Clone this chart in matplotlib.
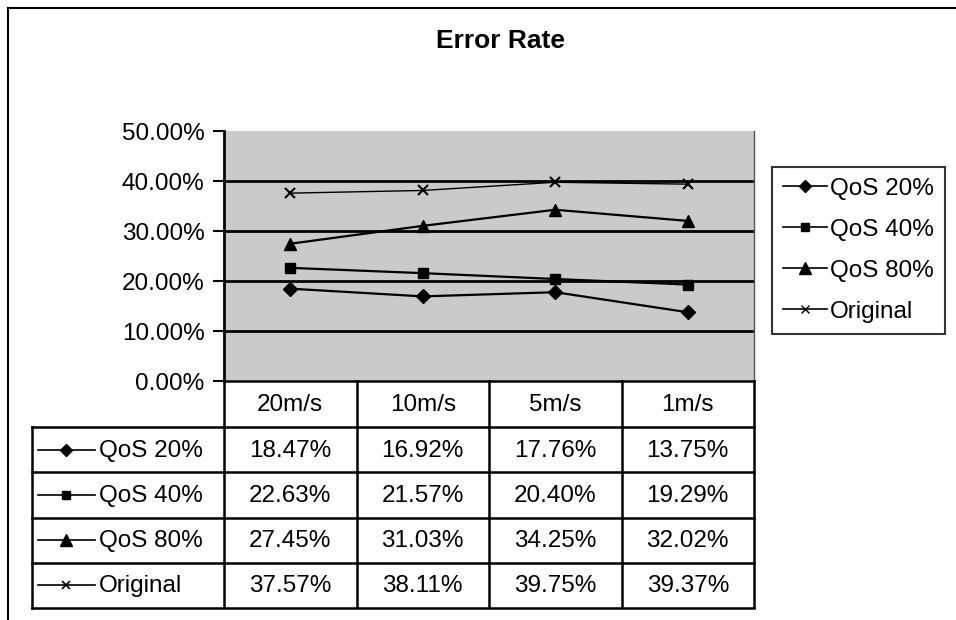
import matplotlib.pyplot as plt
from matplotlib.lines import Line2D
import numpy as np

plt.rcParams['font.family'] = ['Liberation Sans', 'DejaVu Sans']

# данные
speeds = ["20m/s", "10m/s", "5m/s", "1m/s"]
series_names = ["QoS 20%", "QoS 40%", "QoS 80%", "Original"]
qos20 = [18.47, 16.92, 17.76, 13.75]
qos40 = [22.63, 21.57, 20.40, 19.29]
qos80 = [27.45, 31.03, 34.25, 32.02]
original = [37.57, 38.11, 39.75, 39.37]
y_ticks = [0, 10, 20, 30, 40, 50]

series = [qos20, qos40, qos80, original]
markers = ["D", "s", "^", "x"]
msizes = [7, 7, 9, 7]
widths = [1.6, 1.6, 1.6, 1.0]
FS = 17.5

W, H = 956, 620
fig = plt.figure(figsize=(W / 100, H / 100), dpi=100)


def fx(px):
    return px / W


def fy(py):
    return 1 - py / H


# внешняя рамка
fig.add_artist(Line2D([fx(8), 1], [fy(8), fy(8)], color="black", lw=1.5))
fig.add_artist(Line2D([fx(8), fx(8)], [fy(8), 0], color="black", lw=1.5))

fig.text(fx(501), fy(41), "Error Rate", fontsize=19, fontweight="bold",
         ha="center", va="center")

# область графика
left, right, top, bottom = 224, 754, 131, 381
ax = fig.add_axes([fx(left), fy(bottom), fx(right - left), (bottom - top) / H])
ax.set_facecolor("#cacaca")
x = np.arange(len(speeds))
for vals, m, ms, lw in zip(series, markers, msizes, widths):
    ax.plot(x, vals, color="black", lw=lw, marker=m, markersize=ms,
            markeredgewidth=1.5 if m == "x" else 1, zorder=3)
ax.set_xlim(-0.5, len(speeds) - 0.5)
ax.set_ylim(0, 50)
ax.set_yticks(y_ticks)
ax.set_yticklabels([f"{v:.2f}%" for v in y_ticks], fontsize=FS)
ax.set_xticks([])
for v in y_ticks[1:-1]:
    ax.axhline(v, color="black", lw=2, zorder=2)
ax.tick_params(axis="y", direction="out", length=8, width=1.5, pad=6)
ax.spines["top"].set_visible(False)
ax.spines["bottom"].set_visible(False)
ax.spines["left"].set_linewidth(2)
ax.spines["right"].set_linewidth(1)
ax.spines["right"].set_color("#555555")

# таблица данных
tleft, tbottom = 32, 607
header_h = 46
row_h = 45.25
col_w = (right - left) / len(speeds)
lab_w = (left - tleft) / col_w
tax = fig.add_axes([fx(tleft), fy(tbottom), fx(right - tleft), (tbottom - bottom) / H])
tax.set_xlim(-0.5 - lab_w, len(speeds) - 0.5)
tax.set_ylim(tbottom - bottom, 0)
tax.axis("off")

lw_t = 1.8
# заголовок
tax.plot([-0.5, len(speeds) - 0.5], [0, 0], color="black", lw=lw_t, clip_on=False)
for i in range(len(speeds) + 1):
    tax.plot([i - 0.5, i - 0.5], [0, tbottom - bottom], color="black", lw=lw_t, clip_on=False)
for i, s in enumerate(speeds):
    tax.text(i, header_h / 2 + 1, s, ha="center", va="center", fontsize=FS)
# строки
for r in range(len(series) + 1):
    yy = header_h + r * row_h
    tax.plot([-0.5 - lab_w, len(speeds) - 0.5], [yy, yy], color="black", lw=lw_t, clip_on=False)
tax.plot([-0.5 - lab_w, -0.5 - lab_w], [header_h, header_h + 4 * row_h],
         color="black", lw=lw_t, clip_on=False)
for r, (name, vals, m, ms) in enumerate(zip(series_names, series, markers, msizes)):
    yc = header_h + (r + 0.5) * row_h
    x0 = -0.5 - lab_w + 0.045
    tax.plot([x0, x0 + 0.43], [yc, yc], color="black", lw=1.2)
    tax.plot([x0 + 0.215], [yc], color="black", marker=m, markersize=ms - 1,
             markeredgewidth=1.2 if m == "x" else 1)
    tax.text(x0 + 0.46, yc + 1, name, ha="left", va="center", fontsize=FS)
    for i, v in enumerate(vals):
        tax.text(i, yc + 1, f"{v:.2f}%", ha="center", va="center", fontsize=FS)

# легенда
handles = [Line2D([], [], color="black", lw=1.2, marker=m, markersize=ms - 1)
           for m, ms in zip(markers, msizes)]
leg = fig.legend(handles, series_names, loc="upper left",
                 bbox_to_anchor=(fx(772), fy(167)), fontsize=FS,
                 frameon=True, fancybox=False, edgecolor="black",
                 handlelength=1.8, handletextpad=0.15, labelspacing=0.78,
                 borderpad=0.45, borderaxespad=0)
leg.get_frame().set_linewidth(1.5)

fig.savefig("out.png", dpi=100)
